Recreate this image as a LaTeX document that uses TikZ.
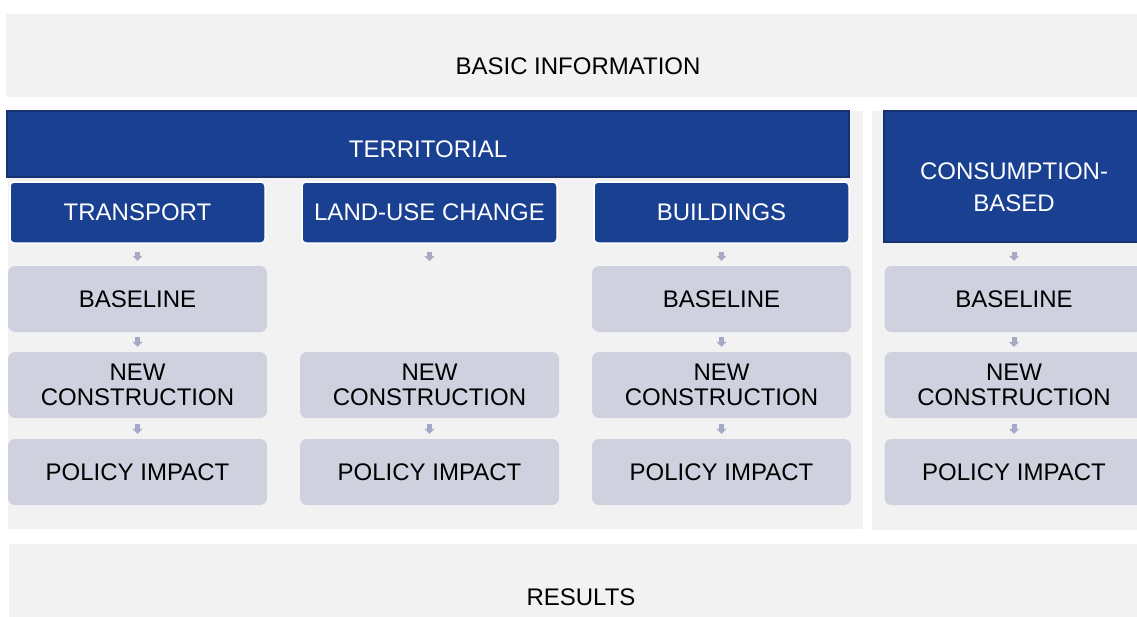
\documentclass[tikz,border=0pt]{standalone}
\usepackage{fontspec}
\setmainfont{Liberation Sans}
\usetikzlibrary{arrows.meta,positioning}
\definecolor{panelgrey}{RGB}{242,242,242}
\definecolor{terrblue}{RGB}{25,64,145}
\definecolor{terrdark}{RGB}{21,49,112}
\definecolor{stagelilac}{RGB}{207,209,223}
\definecolor{flowlilac}{RGB}{166,169,198}

\begin{document}
\begin{tikzpicture}[x=1pt,y=-1pt]
                \tikzstyle{every node}+=[inner sep=0pt, font=\fontsize{24}{25}\selectfont]
                \tikzstyle{panel}=[fill=panelgrey]
                \tikzstyle{bluebar}=[fill=terrblue, draw=terrdark, line width=2pt]
                \tikzstyle{sector}=[fill=terrblue, draw=white, line width=1.5pt, rounded corners=4pt, text=white, minimum width=255pt, minimum height=61pt]
                \tikzstyle{stage}=[fill=stagelilac, rounded corners=7pt, minimum width=259pt, minimum height=66pt, align=center]
                \tikzstyle{flow}=[draw=flowlilac, line width=5pt, -{Triangle[width=10pt,length=5pt]}]
                \useasboundingbox (0,0) rectangle (1137,616);
                \clip (0,0) rectangle (1137,616);
                % outer bands and panels
                \fill [panel] (6,14) rectangle (1150,97);
                \node (basic) at (578,66) {BASIC INFORMATION};
                \fill [panel] (9,544) rectangle (1150,650);
                \node (results) at (581,597) {RESULTS};
                \fill [panel] (8,111) rectangle (863,529);
                \fill [panel] (872,111) rectangle (1150,530);
                % headers
                \node [bluebar, minimum width=842pt, minimum height=66pt] (terr) at (428,144) {};
                \node [text=white] (terrlbl) at (428,149) {TERRITORIAL};
                \node [bluebar, minimum width=260pt, minimum height=131pt] (cons) at (1014,176.5) {};
                \node [text=white, align=center, font=\fontsize{24}{32}\selectfont] (conslbl) at (1014,187) {CONSUMPTION-\\BASED};
                \node [sector] (transport) at (137.5,212.5) {TRANSPORT};
                \node [sector] (landuse) at (429.5,212.5) {LAND-USE CHANGE};
                \node [sector] (buildings) at (721.5,212.5) {BUILDINGS};
                % stages
                \node [stage] (tbase) at (137.5,299) {BASELINE};
                \node [stage] (tnew) at (137.5,385) {NEW\\CONSTRUCTION};
                \node [stage] (tpol) at (137.5,472) {POLICY IMPACT};
                \coordinate (lend) at (429.5,266);
                \node [stage] (lnew) at (429.5,385) {NEW\\CONSTRUCTION};
                \node [stage] (lpol) at (429.5,472) {POLICY IMPACT};
                \node [stage] (bbase) at (721.5,299) {BASELINE};
                \node [stage] (bnew) at (721.5,385) {NEW\\CONSTRUCTION};
                \node [stage] (bpol) at (721.5,472) {POLICY IMPACT};
                \node [stage] (cbase) at (1014,299) {BASELINE};
                \node [stage] (cnew) at (1014,385) {NEW\\CONSTRUCTION};
                \node [stage] (cpol) at (1014,472) {POLICY IMPACT};
                % small arrows
                \draw [flow, shorten <=8pt, shorten >=5pt] (transport) -- (tbase);
                \draw [flow, shorten <=5pt, shorten >=5pt] (tbase) -- (tnew);
                \draw [flow, shorten <=6pt, shorten >=5pt] (tnew) -- (tpol);
                \draw [flow, shorten <=8pt, shorten >=5pt] (landuse.south) -- (lend);
                \draw [flow, shorten <=6pt, shorten >=5pt] (lnew) -- (lpol);
                \draw [flow, shorten <=8pt, shorten >=5pt] (buildings) -- (bbase);
                \draw [flow, shorten <=5pt, shorten >=5pt] (bbase) -- (bnew);
                \draw [flow, shorten <=6pt, shorten >=5pt] (bnew) -- (bpol);
                \draw [flow, shorten <=9pt, shorten >=5pt] (cons) -- (cbase);
                \draw [flow, shorten <=5pt, shorten >=5pt] (cbase) -- (cnew);
                \draw [flow, shorten <=6pt, shorten >=5pt] (cnew) -- (cpol);
\end{tikzpicture}
\end{document}
